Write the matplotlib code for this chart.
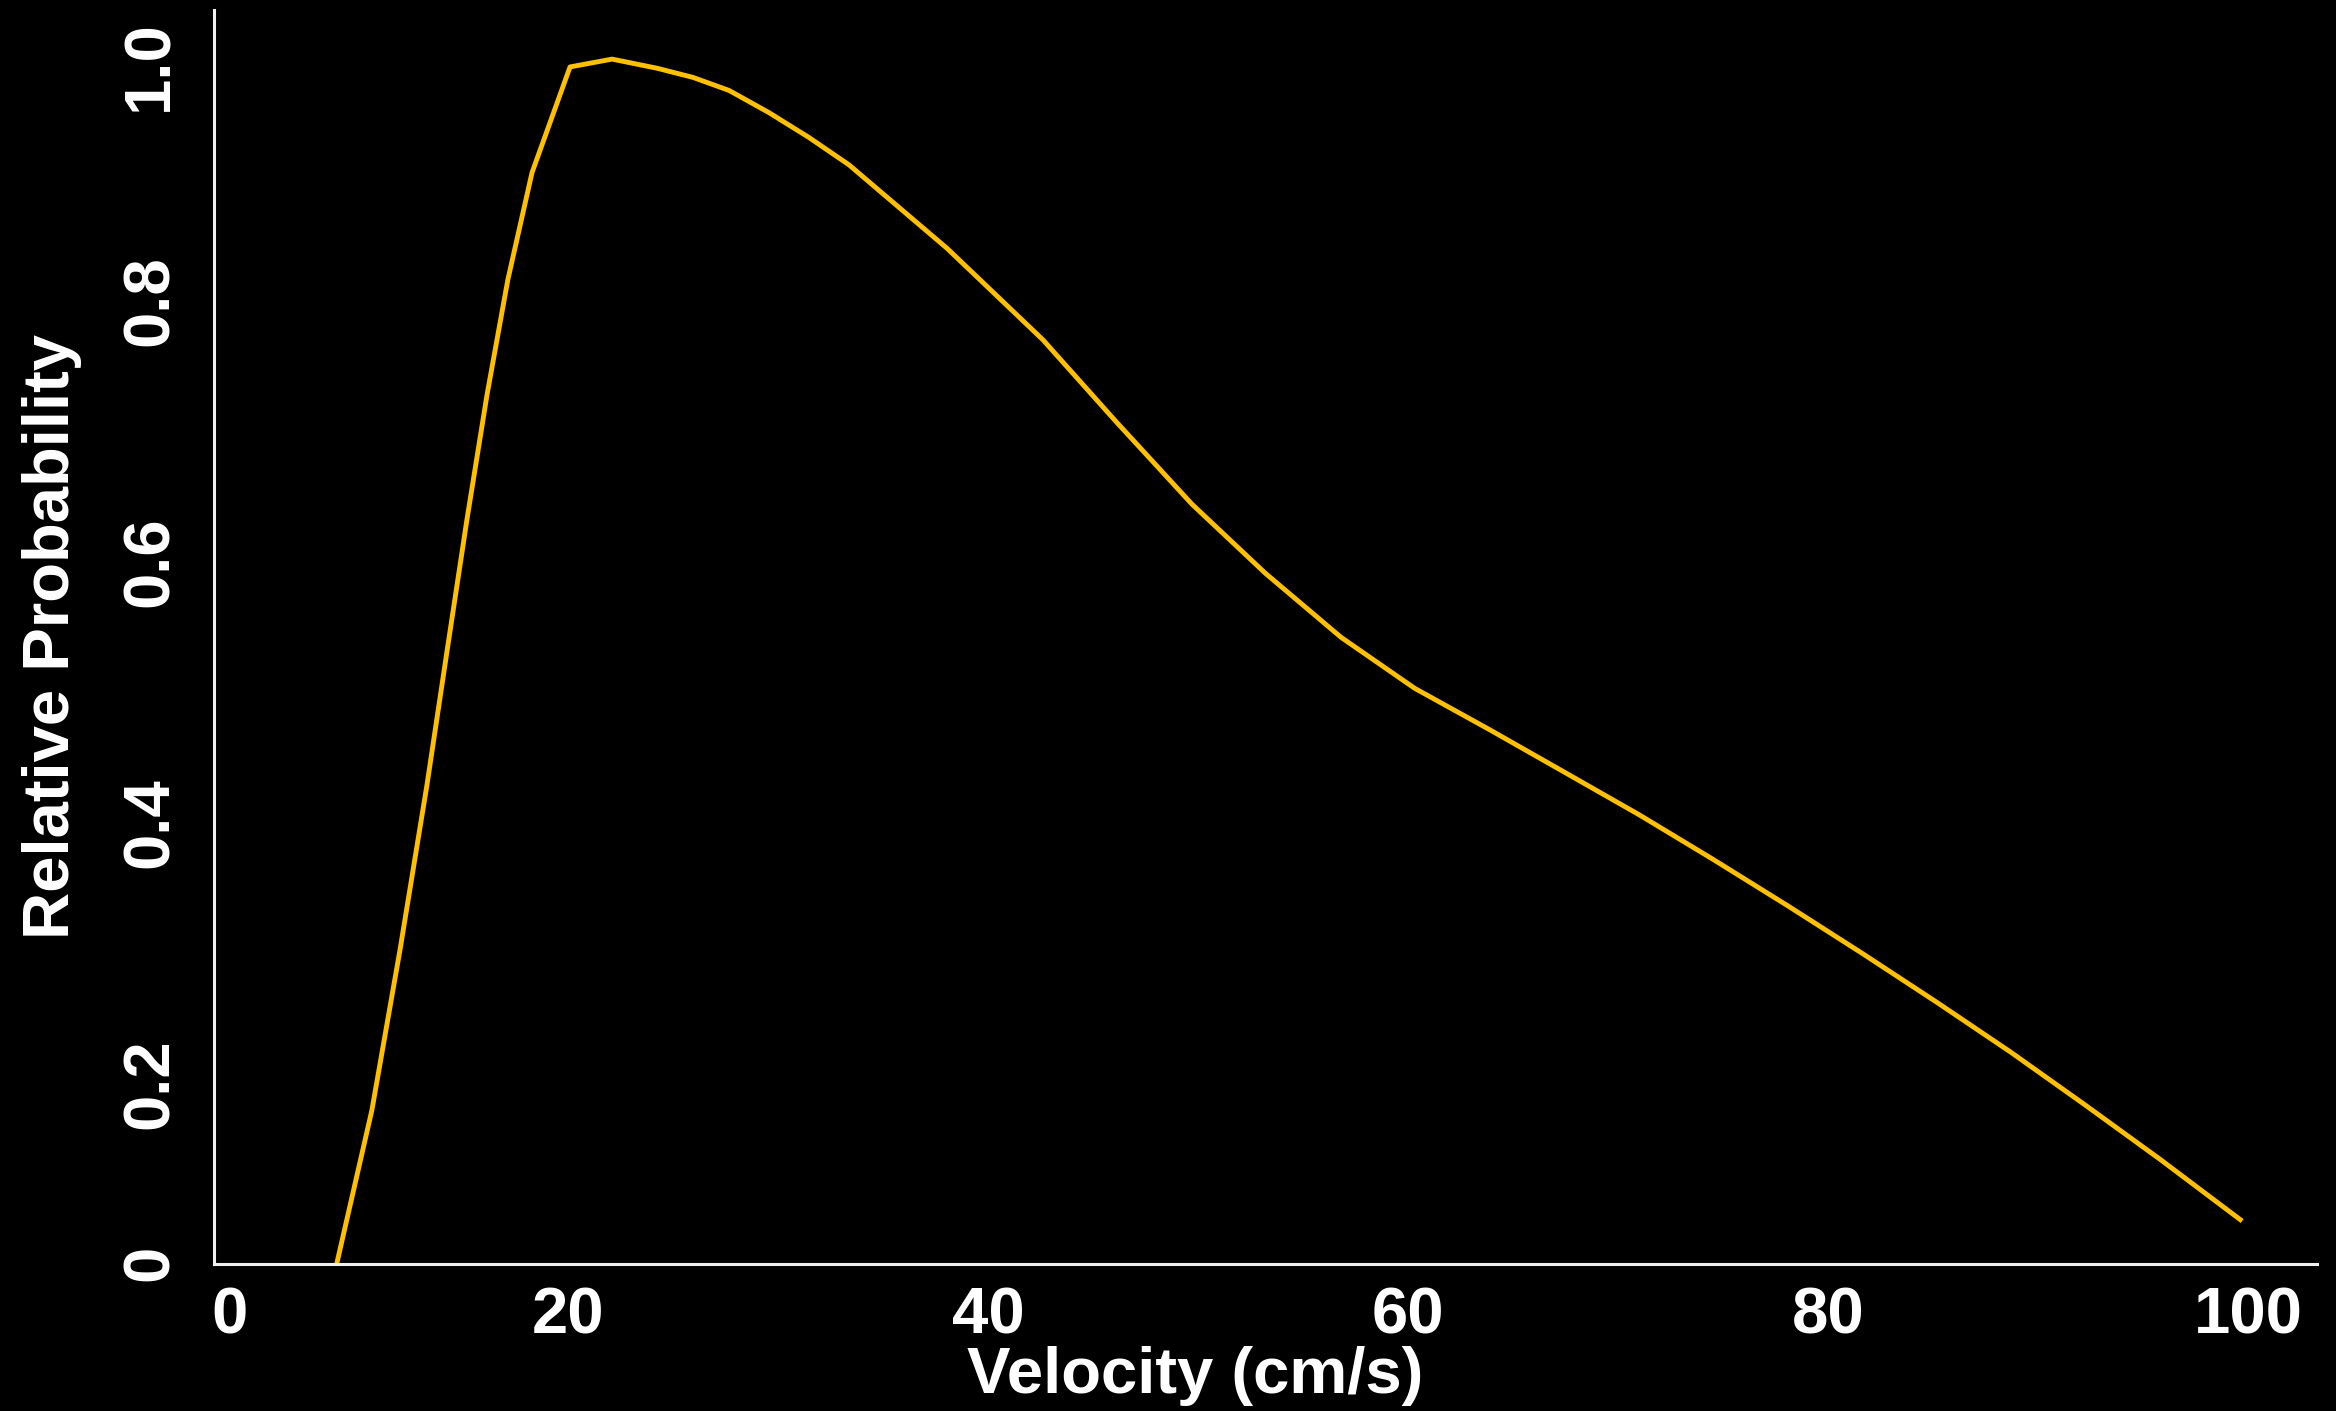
import matplotlib
matplotlib.use('Agg')
import matplotlib.pyplot as plt

# velocity (cm/s) vs relative probability
velocity = [8.1, 10.66, 12.0, 13.28, 14.23, 15.18, 16.14, 17.13, 18.28,
            20.09, 22.09, 24.23, 25.94, 27.66, 29.56, 31.46, 33.37, 38.04,
            42.6, 46.1, 49.7, 53.2, 56.8, 60.3, 63.9, 67.4, 71.0, 74.5,
            78.1, 81.6, 85.2, 88.7, 92.2, 95.8, 99.6]
rel_prob = [0.0, 0.180, 0.303, 0.429, 0.531, 0.632, 0.728, 0.816, 0.898,
            0.979, 0.985, 0.978, 0.971, 0.961, 0.944, 0.925, 0.904, 0.840,
            0.770, 0.707, 0.644, 0.591, 0.542, 0.503, 0.471, 0.439, 0.406, 0.372,
            0.336, 0.300, 0.262, 0.224, 0.184, 0.142, 0.096]

x_ticks = [3.9, 20, 40, 60, 80, 100]
x_tick_labels = ['0', '20', '40', '60', '80', '100']
y_ticks = [0.0625, 0.2, 0.4, 0.6, 0.8, 0.98]
y_tick_labels = ['0', '0.2', '0.4', '0.6', '0.8', '1.0']

plt.rcParams['font.family'] = ['Liberation Sans', 'DejaVu Sans']
plt.rcParams['font.weight'] = 'bold'

bg = 'black'
fig = plt.figure(figsize=(23.36, 14.11), dpi=100)
fig.patch.set_facecolor(bg)
ax = fig.add_axes([0.0916, 0.1042, 0.9003, 0.8887])
ax.set_facecolor(bg)

ax.plot(velocity, rel_prob, color='#FFC000', linewidth=3.5, clip_on=True)

ax.set_xlim(3.14, 103.26)
ax.set_ylim(0.062, 1.0226)

ax.set_xticks(x_ticks, x_tick_labels)
ax.set_yticks(y_ticks, y_tick_labels)
ax.tick_params(axis='both', length=0, colors='white', labelsize=47)
ax.tick_params(axis='x', pad=16)
ax.tick_params(axis='y', pad=24, labelrotation=90)
for lab in ax.get_yticklabels():
    lab.set_verticalalignment('center')

for side in ('top', 'right'):
    ax.spines[side].set_visible(False)
for side in ('left', 'bottom'):
    ax.spines[side].set_color('#f0f0f0')
    ax.spines[side].set_linewidth(2.2)

ax.set_xlabel('Velocity (cm/s)', color='white', fontsize=47, fontweight='bold')
ax.set_ylabel('Relative Probability', color='white', fontsize=47, fontweight='bold')
ax.xaxis.set_label_coords(0.4665, -0.0654)
ax.yaxis.set_label_coords(-0.0628, 0.5)

fig.savefig('out.png', dpi=100, facecolor=bg)
plt.close(fig)
